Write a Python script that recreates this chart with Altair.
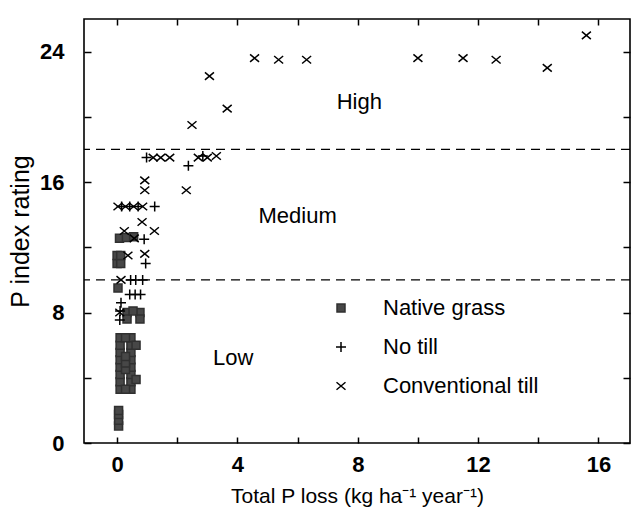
import altair as alt
import pandas as pd

# ---- data ----
series = ["Native grass", "No till", "Conventional till"]

ng_x = [0.05, 0.05, 0.05, 0.05,
        0.1, 0.1, 0.1, 0.1, 0.1, 0.1, 0.1, 0.1,
        0.46, 0.46, 0.46, 0.46, 0.46, 0.46, 0.46, 0.46,
        0.28, 0.28, 0.28, 0.28, 0.28,
        0.63, 0.63,
        0.33, 0.76, 0.33, 0.76, 0.53,
        0.03,
        0.0, 0.0, 0.12, 0.12,
        0.08, 0.31, 0.55]
ng_y = [1.05, 1.4, 1.75, 2.0,
        3.3, 3.75, 4.2, 4.65, 5.1, 5.55, 6.0, 6.45,
        3.3, 3.75, 4.2, 4.65, 5.1, 5.55, 6.0, 6.45,
        3.3, 4.5, 4.9, 5.3, 6.45,
        3.9, 6.0,
        8.0, 8.0, 7.6, 7.6, 8.1,
        9.5,
        11.0, 11.5, 11.0, 11.5,
        12.55, 12.6, 12.65]

nt_x = [0.98, 2.85, 2.37,
        0.15, 0.42, 0.7, 1.25,
        0.9, 0.95,
        0.45, 0.62, 0.85,
        0.42, 0.6, 0.78,
        0.13, 0.1, 0.09]
nt_y = [17.5, 17.6, 17.0,
        14.5, 14.5, 14.5, 14.5,
        12.5, 11.0,
        10.0, 10.0, 10.0,
        9.1, 9.1, 9.1,
        8.6, 8.1, 7.55]

ct_x = [4.57, 5.37, 6.3, 10.0, 11.5, 12.6, 14.3, 15.6, 3.07, 3.66, 2.49,
        1.2, 1.45, 1.75, 2.7, 3.0, 3.3,
        0.92, 0.92, 2.3,
        0.03, 0.28, 0.55, 0.85,
        0.83, 1.24, 0.24, 0.57, 0.36, 0.92,
        0.13, 0.09]
ct_y = [23.6, 23.5, 23.5, 23.6, 23.6, 23.5, 23.0, 25.0, 22.5, 20.5, 19.5,
        17.5, 17.5, 17.5, 17.5, 17.5, 17.6,
        16.1, 15.5, 15.5,
        14.5, 14.5, 14.5, 14.5,
        13.55, 13.0, 13.0, 12.55, 11.5, 11.6,
        10.0, 8.0]

zone_names = ["High", "Medium", "Low"]
zone_x = [8.05, 6.0, 3.86]
zone_y = [20.9, 13.9, 5.2]

cutoffs = [10, 18]

x_major = [0, 4, 8, 12, 16]
x_minor = [0, 2, 4, 6, 8, 10, 12, 14, 16]
y_major = [0, 8, 16, 24]
y_minor = [0, 4, 8, 12, 16, 20, 24]

# ---- tables ----
df = pd.DataFrame({
    "loss": ng_x + nt_x + ct_x,
    "rating": ng_y + nt_y + ct_y,
    "system": [series[0]] * len(ng_x) + [series[1]] * len(nt_x) + [series[2]] * len(ct_x),
})
zones = pd.DataFrame({"name": zone_names, "zx": zone_x, "zy": zone_y})
cuts = pd.DataFrame({"cut": cutoffs})

FONT = "Liberation Sans"
xs = alt.Scale(domain=[-1.1, 17.05], nice=False, zero=False)
ys = alt.Scale(domain=[0, 26], nice=False, zero=False)

shape_range = [
    "M-0.8,-0.8H0.8V0.8H-0.8Z",
    "M-1,0H1M0,-1V1",
    "M-0.9,-0.75L0.9,0.75M-0.9,0.75L0.9,-0.75",
]

def leg():
    return alt.Legend(
        title=None, orient="none", legendX=246, legendY=278,
        labelFont=FONT, labelFontSize=22, labelColor="black",
        labelOffset=31, rowPadding=17, padding=0,
        symbolSize=100, symbolStrokeWidth=1.5,
    )

points = alt.Chart(df).mark_point(
    size=100, strokeWidth=1.5, opacity=1, fillOpacity=1, strokeOpacity=1
).encode(
    x=alt.X("loss:Q", scale=xs, axis=alt.Axis(
        values=x_major, ticks=False, tickSize=0, domain=False, grid=False,
        labelFont=FONT, labelFontSize=22, labelFontWeight="bold", labelColor="black",
        labelPadding=11,
        title="Total P loss (kg ha⁻¹ year⁻¹)", titleFont=FONT, titleFontSize=21,
        titleFontWeight="normal", titleColor="black", titlePadding=10)),
    y=alt.Y("rating:Q", scale=ys, axis=alt.Axis(
        values=y_major, ticks=False, tickSize=0, domain=False, grid=False,
        labelFont=FONT, labelFontSize=22, labelFontWeight="bold", labelColor="black",
        labelPadding=20,
        title="P index rating", titleFont=FONT, titleFontSize=25,
        titleFontWeight="normal", titleColor="black", titlePadding=6)),
    shape=alt.Shape("system:N", scale=alt.Scale(domain=series, range=shape_range), legend=leg()),
    fill=alt.Fill("system:N", scale=alt.Scale(domain=series, range=["#474747", "transparent", "transparent"]), legend=leg()),
    stroke=alt.Stroke("system:N", scale=alt.Scale(domain=series, range=["#303030", "black", "black"]), legend=leg()),
)

def tick_axis(orient, values, size):
    return alt.Axis(values=values, orient=orient, offset=-size, tickSize=size, tickWidth=1.5,
                    tickColor="black", labels=False, domain=False, grid=False, title=None)

ticks_lb = alt.Chart(df).mark_point(opacity=0).encode(
    x=alt.X("loss:Q", scale=xs, axis=tick_axis("bottom", x_minor, 6)),
    y=alt.Y("rating:Q", scale=ys, axis=tick_axis("left", y_minor, 7)),
)
ticks_tr = alt.Chart(df).mark_point(opacity=0).encode(
    x=alt.X("loss:Q", scale=xs, axis=tick_axis("top", x_minor, 6)),
    y=alt.Y("rating:Q", scale=ys, axis=tick_axis("right", y_minor, 7)),
)

rules = alt.Chart(cuts).mark_rule(strokeDash=[9, 6], strokeWidth=1.3, color="black").encode(
    y=alt.Y("cut:Q", scale=ys, axis=None)
)

labels = alt.Chart(zones).mark_text(font=FONT, fontSize=22, color="black").encode(
    x=alt.X("zx:Q", scale=xs, axis=None),
    y=alt.Y("zy:Q", scale=ys, axis=None),
    text="name:N",
)

chart = alt.layer(rules, points, ticks_lb, ticks_tr, labels).resolve_axis(
    x="independent", y="independent"
).properties(
    width=546, height=424,
    padding={"left": 84, "top": 19, "right": 1, "bottom": 77},
    autosize=alt.AutoSizeParams(type="none"),
    background="white",
).configure_view(stroke="black", strokeWidth=1.6)

chart.save("out.html", embed_options={"renderer": "svg", "actions": False})
